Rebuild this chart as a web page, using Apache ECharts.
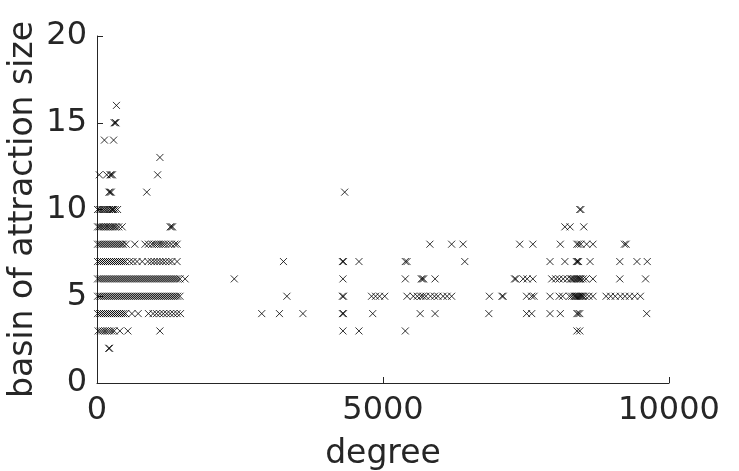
<!DOCTYPE html>
<html>
<head>
<meta charset="utf-8">
<script src="https://cdn.jsdelivr.net/npm/echarts@6/dist/echarts.min.js"></script>
<style>
  html, body { margin: 0; padding: 0; background: #fff; }
  #chart { width: 739px; height: 471px; }
</style>
</head>
<body>
<div id="chart"></div>
<script>
  // degree values of the nodes, one list per basin size
  const size2 = [205, 220];
  const size3 = [20, 60, 100, 140, 180, 220, 260, 300, 400, 540, 1100, 4300, 4580, 5390, 8390, 8440];
  const size4 = [10, 45, 80, 115, 150, 185, 220, 255, 290, 325, 360, 395, 430, 465, 500, 610, 720,
    900, 980, 1040, 1100, 1160, 1220, 1280, 1340, 1400, 1460,
    2880, 3190, 3600, 4290, 4310, 4820, 5650, 5910, 6850, 7510, 7600, 7920, 8100, 8390, 8410, 8440, 9610];
  const size5 = [10, 45, 80, 115, 150, 185, 220, 255, 290, 325, 360, 395, 430, 465, 500, 535, 570, 605,
    640, 675, 710, 745, 780, 815, 850, 885, 920, 955, 990, 1025, 1060, 1095, 1130, 1165, 1200, 1235,
    1270, 1305, 1340, 1375, 1410, 1450,
    3320, 4290, 4310, 4800, 4870, 4940, 5030, 5420, 5530, 5600, 5660, 5700, 5750, 5830, 5900, 5960,
    6050, 6120, 6200, 6860, 7080, 7100, 7510, 7600, 7640, 7920, 8080, 8140, 8260, 8300, 8340, 8360,
    8380, 8400, 8420, 8440, 8460, 8480, 8500, 8540, 8600, 8670, 8900, 8980, 9060, 9150, 9230, 9310,
    9400, 9500];
  const size6 = [10, 45, 80, 115, 150, 185, 220, 255, 290, 325, 360, 395, 430, 465, 500, 535, 570, 605,
    640, 675, 710, 745, 780, 815, 850, 885, 920, 955, 990, 1025, 1060, 1095, 1130, 1165, 1200, 1235,
    1270, 1305, 1340, 1375, 1410, 1450, 1540,
    2400, 4300, 5390, 5670, 5690, 5710, 5910, 7300, 7320, 7450, 7520, 7620, 7950, 8020, 8080, 8150,
    8220, 8280, 8300, 8330, 8350, 8380, 8400, 8420, 8440, 8460, 8500, 8550, 8670, 9140, 9590];
  const size7 = [10, 45, 80, 115, 150, 185, 220, 255, 290, 325, 360, 395, 430, 465, 500, 570, 630, 700,
    790, 890, 950, 1000, 1050, 1100, 1150, 1200, 1260, 1310, 1400,
    3260, 4290, 4310, 4580, 5390, 5420, 6430, 7920, 8180, 8380, 8400, 8420, 8620, 9140, 9440, 9620];
  const size8 = [10, 45, 80, 115, 150, 185, 220, 255, 290, 325, 360, 395, 430, 460, 510, 660,
    840, 900, 960, 1000, 1040, 1080, 1120, 1160, 1200, 1250, 1300, 1360, 1400,
    5820, 6200, 6400, 7390, 7620, 8100, 8390, 8420, 8460, 8560, 8670, 9220, 9250];
  const size9 = [10, 40, 70, 100, 130, 160, 190, 220, 250, 280, 310, 340, 380, 440, 1280, 1300, 1320,
    8180, 8270, 8510];
  const size10 = [10, 40, 70, 100, 130, 160, 190, 220, 250, 270, 290, 320, 360, 8440, 8460];
  const size11 = [210, 230, 250, 870, 4330];
  const size12 = [40, 170, 230, 250, 270, 1060];
  const size13 = [1100];
  const size14 = [130, 290];
  const size15 = [300, 320, 330];
  const size16 = [340];

  const basinSizes = [2, 3, 4, 5, 6, 7, 8, 9, 10, 11, 12, 13, 14, 15, 16];
  const degreeRows = [size2, size3, size4, size5, size6, size7, size8, size9, size10,
    size11, size12, size13, size14, size15, size16];

  const xTicks = [0, 5000, 10000];
  const yTicks = [0, 5, 10, 15, 20];

  const points = [];
  degreeRows.forEach((row, i) => {
    row.forEach((d) => points.push([d, basinSizes[i]]));
  });

  const chart = echarts.init(document.getElementById('chart'));
  const textColor = '#262626';
  const font = 'DejaVu Sans';

  const options = {
    animation: false,
    backgroundColor: '#fff',
    grid: {
      left: 97,
      right: 70,
      top: 36,
      bottom: 88,
      outerBoundsMode: 'none'
    },
    xAxis: {
      type: 'value',
      min: xTicks[0],
      max: xTicks[xTicks.length - 1],
      interval: xTicks[1] - xTicks[0],
      name: 'degree',
      nameLocation: 'middle',
      nameGap: 55,
      nameMoveOverlap: false,
      nameTextStyle: { fontSize: 33, color: textColor, fontFamily: font },
      axisLine: { show: true, lineStyle: { color: textColor, width: 1 } },
      axisTick: { show: true, inside: true, length: 6, lineStyle: { color: textColor } },
      axisLabel: {
        fontSize: 32,
        color: textColor,
        fontFamily: font,
        margin: 12,
        formatter: (v) => String(v)
      },
      splitLine: { show: false }
    },
    yAxis: {
      type: 'value',
      min: yTicks[0],
      max: yTicks[yTicks.length - 1],
      interval: yTicks[1] - yTicks[0],
      name: 'basin of attraction size',
      nameLocation: 'middle',
      nameGap: 57,
      nameMoveOverlap: false,
      nameTextStyle: { fontSize: 33, color: textColor, fontFamily: font },
      axisLine: { show: true, lineStyle: { color: textColor, width: 1 } },
      axisTick: { show: true, inside: true, length: 6, lineStyle: { color: textColor } },
      axisLabel: {
        fontSize: 32,
        color: textColor,
        fontFamily: font,
        margin: 10,
        formatter: (v) => String(v)
      },
      splitLine: { show: false }
    },
    series: [
      {
        type: 'scatter',
        symbol: 'path://M0,0L10,10M10,0L0,10',
        symbolSize: 7,
        itemStyle: {
          color: 'rgba(0,0,0,0)',
          borderColor: '#000',
          borderWidth: 1
        },
        data: points
      }
    ]
  };
  chart.setOption(options);
</script>
</body>
</html>
